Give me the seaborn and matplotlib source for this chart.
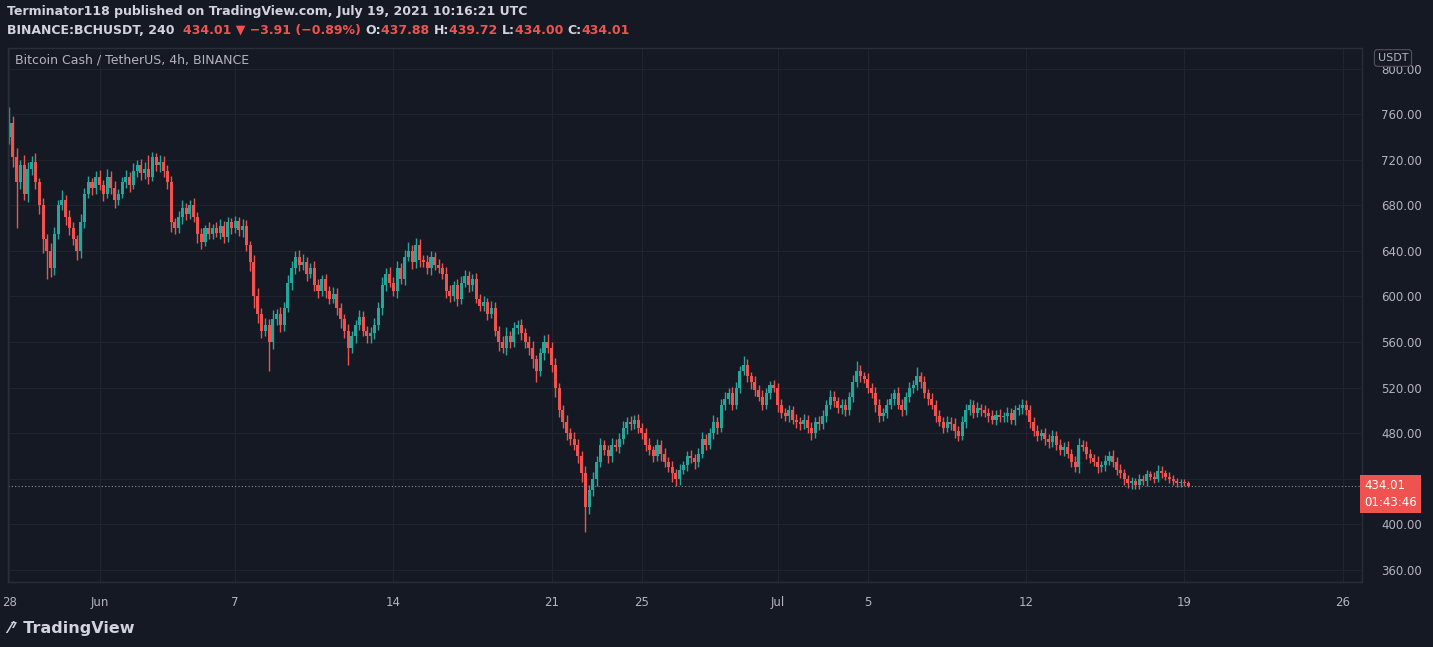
import numpy as np
import matplotlib
matplotlib.use("Agg")
import matplotlib.pyplot as plt
import seaborn as sns

# ---- data (4h candles from 2021-05-28 00:00 UTC) ----
closes = [
    752,722,700,715,690,712,  718,700,680,650,640,625,  655,680,685,670,660,650,
    640,665,690,700,695,705,  698,690,705,695,685,690,  700,705,698,710,715,708,
    712,705,722,715,718,710,  700,665,660,670,678,672,  680,670,655,648,660,655,
    660,656,662,652,665,660,  666,658,662,645,630,600,  585,570,575,560,580,585,
    575,590,612,625,635,628,  630,620,625,610,605,615,  605,598,602,590,580,570,
    555,565,575,582,570,565,  568,575,590,610,620,612,  605,625,615,635,640,630,
    645,632,630,625,635,628,  625,620,605,600,610,598,  612,618,610,615,598,592,
    595,585,590,570,560,555,  565,560,572,575,568,560,  555,545,535,550,560,555,
    540,520,500,490,480,475,  470,460,445,415,430,440,  455,470,465,460,470,468,
    475,485,490,488,492,485,  480,470,465,460,470,462,  455,450,445,440,448,452,
    460,458,455,462,475,470,  480,490,485,505,510,515,  505,520,535,540,530,525,
    518,512,505,515,522,520,  505,498,495,500,492,490,  488,492,485,480,490,488,
    495,505,512,508,502,505,  500,512,525,535,530,528,  520,515,505,495,498,505,
    510,515,505,500,512,520,  522,530,525,515,510,505,  495,490,485,490,488,482,
    478,490,500,505,498,502,  500,498,495,492,496,494,  495,498,492,500,502,505,
    500,490,482,478,480,475,  472,478,470,465,468,462,  455,450,470,468,462,458,
    455,450,452,456,460,455,  448,445,440,436,438,435,  440,438,444,442,440,447,
    445,442,440,438,436,437,  436,434.01,
]
open0 = 740
upper_wick = [
    14,6,8,5,9,6,  5,8,4,6,5,7,  6,5,8,4,6,5,
    4,7,5,6,4,5,  6,4,7,5,6,4,  5,6,4,7,5,6,
    6,12,5,4,6,5,  5,6,4,5,7,4,  5,6,4,5,3,5,
    4,5,6,4,5,4,  5,4,6,5,4,6,  7,5,6,5,8,4,
    6,5,7,6,5,6,  7,5,4,6,5,4,  5,4,6,5,4,5,
    6,5,4,6,5,4,  5,6,5,7,5,6,  5,6,4,6,8,5,
    6,5,4,6,5,4,  5,4,6,5,4,5,  6,5,4,5,6,4,
    5,4,6,5,4,5,  8,5,6,4,5,4,  5,6,4,5,6,7,
    5,6,4,5,6,5,  6,5,4,6,5,6,  5,6,4,5,6,5,
    5,6,4,5,4,5,  4,5,6,4,5,4,  5,4,6,4,5,4,
    4,5,4,5,6,4,  5,6,4,5,6,5,  6,5,4,8,5,4,
    5,4,6,5,4,5,  4,5,4,5,4,5,  4,5,4,5,4,5,
    5,4,6,5,4,5,  5,4,6,8,5,4,  5,4,6,5,4,5,
    5,4,6,5,4,5,  5,8,4,5,4,5,  4,5,4,5,4,5,
    4,5,6,5,4,5,  4,5,4,5,4,5,  4,5,4,5,4,5,
    4,5,4,5,4,5,  4,5,4,5,4,5,  4,5,6,4,5,4,
    4,5,4,5,4,5,  4,5,4,3,4,3,  4,3,4,3,4,5,
    4,3,4,3,3,3,  3,2,
]
lower_wick = [
    6,8,40,6,5,7,  5,6,8,12,25,8,  6,5,4,7,6,5,
    8,6,5,4,6,5,  5,6,4,5,7,5,  4,5,6,4,5,6,
    5,6,4,5,6,5,  6,8,5,4,6,5,  4,5,8,6,4,5,
    5,4,6,5,4,5,  4,5,6,5,8,10,  8,6,5,25,6,5,
    6,5,4,6,5,6,  5,6,4,5,6,5,  6,5,4,6,8,6,
    15,5,6,4,5,6,  6,5,4,6,5,4,  5,6,4,5,4,6,
    5,6,4,5,6,5,  4,5,6,5,4,6,  5,4,6,5,4,5,
    5,6,4,5,8,5,  6,5,4,5,6,5,  6,8,10,5,6,5,
    6,8,6,5,6,5,  5,6,8,22,6,5,  6,5,4,6,5,4,
    5,4,6,5,4,5,  5,6,4,5,4,6,  5,4,8,6,5,4,
    5,4,6,5,4,5,  4,5,6,4,5,4,  5,4,5,4,5,6,
    5,4,5,4,5,4,  6,5,4,5,4,5,  5,4,5,6,4,5,
    4,5,4,5,4,5,  5,4,5,4,5,4,  5,4,6,5,4,5,
    4,5,4,5,4,5,  5,4,5,4,5,4,  5,4,5,4,5,6,
    5,4,5,4,5,4,  5,4,5,4,5,4,  4,5,4,5,4,5,
    4,5,4,5,4,5,  5,4,5,4,5,4,  5,4,5,4,5,4,
    4,5,4,5,4,5,  5,4,5,4,5,4,  4,3,4,3,4,3,
    4,3,4,3,3,3,  2,1,
]
tick_days = [0, 4, 10, 17, 24, 28, 34, 38, 45, 52, 59]
tick_labels = ["28", "Jun", "7", "14", "21", "25", "Jul", "5", "12", "19", "26"]
price_ticks = [360, 400, 440, 480, 520, 560, 600, 640, 680, 720, 760, 800]
last_price = 434.01

# ---- style ----
BG = "#151924"
GRID = "#20242f"
TXT = "#b2b5be"
UP, DOWN = "#26a69a", "#ef5350"
sns.set_theme(style="dark", rc={"axes.facecolor": BG, "figure.facecolor": BG})

W, H = 1433, 647
fig = plt.figure(figsize=(W / 100, H / 100), dpi=100)
fig.patch.set_facecolor(BG)

ax = fig.add_axes([8 / W, (H - 582) / H, (1362 - 8) / W, (582 - 48) / H])
ax.set_facecolor(BG)

closes = np.array(closes, dtype=float)
opens = np.concatenate([[open0], closes[:-1]])
t = np.arange(len(closes)) / 6.0
highs = np.maximum(opens, closes) + np.array(upper_wick)
lows = np.minimum(opens, closes) - np.array(lower_wick)
colors = [UP if c >= o else DOWN for o, c in zip(opens, closes)]

ax.vlines(t, lows, highs, colors=colors, linewidth=1)
body_h = np.abs(closes - opens)
body_h = np.where(body_h < 0.6, 0.6, body_h)
ax.bar(t, body_h, bottom=np.minimum(opens, closes), width=0.135, color=colors, linewidth=0)

ax.set_xlim(-0.05, (1362 - 8) / 22.6 - 0.05)
ax.set_ylim(349.5, 818)
ax.set_xticks(tick_days)
ax.set_xticklabels(tick_labels)
ax.set_yticks(price_ticks)
ax.set_yticklabels([f"{p:.2f}" for p in price_ticks])
ax.yaxis.tick_right()
ax.tick_params(axis="both", colors=TXT, labelsize=8.5, length=0, pad=10)
ax.tick_params(axis="y", pad=14)
ax.grid(True, color=GRID, linewidth=0.8)
for s in ax.spines.values():
    s.set_color("#2a2e39")
    s.set_linewidth(1)

ax.axhline(last_price, color="#8a8e99", linestyle=(0, (1, 2)), linewidth=0.8)
ax.text(1.0 + 2 / 1354, last_price - 7, "434.01\n01:43:46", transform=ax.get_yaxis_transform(),
        va="center", ha="left", fontsize=8.5, color="white", linespacing=1.4, zorder=10,
        bbox=dict(boxstyle="square,pad=0.35", fc="#ef5350", ec="none"))
ax.text(7 / 1354, 1 - 12 / 534, "Bitcoin Cash / TetherUS, 4h, BINANCE", transform=ax.transAxes,
        color=TXT, fontsize=9, va="center", ha="left")
fig.text(1393 / W, 1 - 58 / H, "USDT", color=TXT, fontsize=8, ha="center", va="center",
         bbox=dict(boxstyle="round,pad=0.3", fc=BG, ec="#50535e", lw=0.8))

# header
fig.text(7 / W, 1 - 12 / H, "Terminator118 published on TradingView.com, July 19, 2021 10:16:21 UTC",
         color="#d1d4dc", fontsize=9, fontweight="bold", va="center")
parts = [("BINANCE:BCHUSDT, 240  ", "#d1d4dc"), ("434.01 ▼ −3.91 (−0.89%) ", DOWN),
         ("O:", "#d1d4dc"), ("437.88 ", DOWN), ("H:", "#d1d4dc"), ("439.72 ", DOWN),
         ("L:", "#d1d4dc"), ("434.00 ", DOWN), ("C:", "#d1d4dc"), ("434.01", DOWN)]
fig.canvas.draw()
r = fig.canvas.get_renderer()
x = 7 / W
for s, c in parts:
    tt = fig.text(x, 1 - 30 / H, s, color=c, fontsize=9, fontweight="bold", va="center")
    bb = tt.get_window_extent(renderer=r)
    x += bb.width / W

fig.text(8 / W, 1 - 628 / H, "⁄⁷ TradingView", color="#d1d4dc", fontsize=11.5,
         fontweight="bold", va="center")
fig.savefig("out.png", dpi=100, facecolor=BG)
